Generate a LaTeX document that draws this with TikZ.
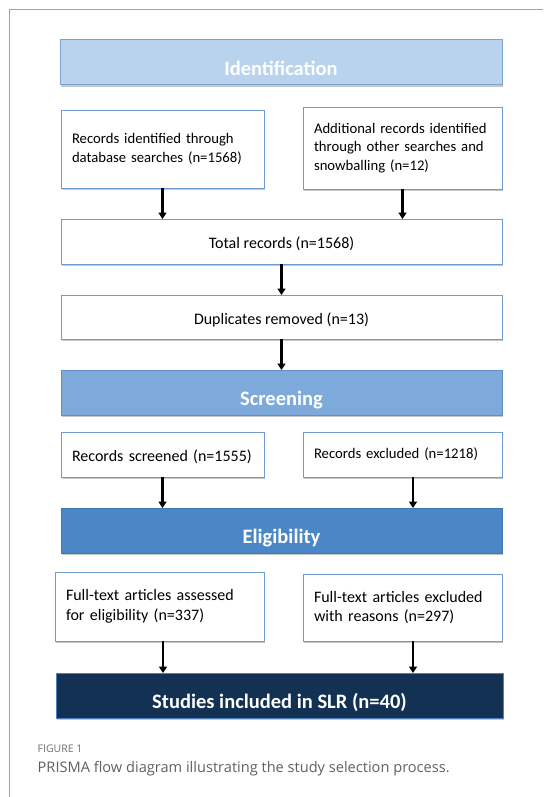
\documentclass[tikz,border=0pt]{standalone}
\usepackage{fontspec}
\setmainfont{Carlito}
\newfontfamily\capfont{Open Sans}
\usetikzlibrary{arrows.meta,shadows}

\definecolor{frameline}{HTML}{A3A3A3}
\definecolor{boxline}{HTML}{6E9BD0}
\definecolor{idfill}{HTML}{B9D3EE}
\definecolor{idline}{HTML}{7AA3D4}
\definecolor{scfill}{HTML}{7DAADB}
\definecolor{scline}{HTML}{5E8FC8}
\definecolor{elfill}{HTML}{4B87C6}
\definecolor{elline}{HTML}{3F76B3}
\definecolor{infill}{HTML}{133253}
\definecolor{inline}{HTML}{4F7FB8}
\definecolor{captext}{HTML}{606060}
\definecolor{caphead}{HTML}{707070}

\tikzset{
  shade/.style={drop shadow={shadow xshift=1pt,shadow yshift=-2pt,opacity=0.22,fill=black}},
  whitebox/.style={draw=boxline,line width=0.9pt,fill=white,shade,
    rectangle,inner sep=0pt,outer sep=0pt,font=\fontsize{16}{19.5}\selectfont},
  leftbox/.style={whitebox,align=left,inner xsep=11pt},
  smalltext/.style={font=\fontsize{14.7}{18.2}\selectfont},
  phase/.style={rectangle,line width=1pt,inner sep=0pt,outer sep=0pt,shade,
    text=white,text height=26pt,text depth=0pt,
    font=\fontsize{20.5}{24}\selectfont\bfseries},
  arr/.style={line width=2.1pt,-{Triangle[length=6.5pt,width=8pt]}},
}

\begin{document}
\begin{tikzpicture}[x=1pt,y=-1pt]
\useasboundingbox (0,0) rectangle (543,797);

% frame of the figure panel
\draw[frameline,line width=1pt] (9,797) -- (9,10) -- (543,10);

% phase banners
\node[phase,fill=idfill,draw=idline,minimum width=442,minimum height=45] (ident) at (281,62.5) {Identification};
\node[phase,fill=scfill,draw=scline,minimum width=441,minimum height=45] (screen) at (281.5,392.5) {Screening};
\node[phase,fill=elfill,draw=elline,minimum width=441,minimum height=45] (elig) at (281.5,530.5) {Eligibility};
\node[phase,fill=infill,draw=inline,minimum width=447,minimum height=45] (final) at (279.5,695.5) {Studies included in SLR (n=40)};

% identification boxes
\node[leftbox,smalltext,text width=181,minimum height=78] (db) at (162.5,149) {Records identified through\\database searches (n=1568)};
\node[leftbox,smalltext,text width=177,minimum height=82] (other) at (402.5,148) {Additional records identified\\through other searches and\\snowballing (n=12)};
\node[whitebox,minimum width=441,minimum height=45,text height=14pt,text depth=0pt] (total) at (281.5,241.5) {Total records (n=1568)};
\node[whitebox,minimum width=441,minimum height=44,text height=14pt,text depth=0pt] (dup) at (281.5,317) {Duplicates removed (n=13)};

% screening boxes
\node[leftbox,text width=181,minimum height=45,text height=14pt,text depth=0pt] (scr) at (162.5,454.5) {Records screened (n=1555)};
\node[leftbox,smalltext,text width=177,minimum height=45] (exc) at (402.5,454.5) {Records excluded (n=1218)};

% eligibility boxes
\node[leftbox,text width=187,minimum height=69] (ft) at (159.5,606.5) {Full-text articles assessed\\for eligibility (n=337)};
\node[leftbox,text width=177,minimum height=67] (ftx) at (402.5,607.5) {Full-text articles excluded\\with reasons (n=297)};

% connectors
\draw[arr] (db.south) -- (db.south |- total.north);
\draw[arr] (other.south) -- (other.south |- total.north);
\draw[arr] (total.south) -- (total.south |- dup.north);
\draw[arr] (dup.south) -- (dup.south |- screen.north);
\draw[arr] (scr.south) -- (scr.south |- elig.north);
\draw[arr] ([xshift=10.5pt]exc.south) -- ([xshift=10.5pt]exc.south |- elig.north);
\draw[arr] ([xshift=3.5pt]ft.south) -- ([xshift=3.5pt]ft.south |- final.north);
\draw[arr] ([xshift=10.5pt]ftx.south) -- ([xshift=10.5pt]ftx.south |- final.north);

% caption
\node[anchor=base west,inner sep=0pt,text=caphead,font=\capfont\fontsize{10.5}{12}\selectfont] (fig) at (37.5,752.7) {FIGURE 1};
\node[anchor=base west,inner sep=0pt,text=captext,font=\capfont\fontsize{14.6}{17}\selectfont] (cap) at (37.5,772.7) {PRISMA flow diagram illustrating the study selection process.};
\end{tikzpicture}
\end{document}
